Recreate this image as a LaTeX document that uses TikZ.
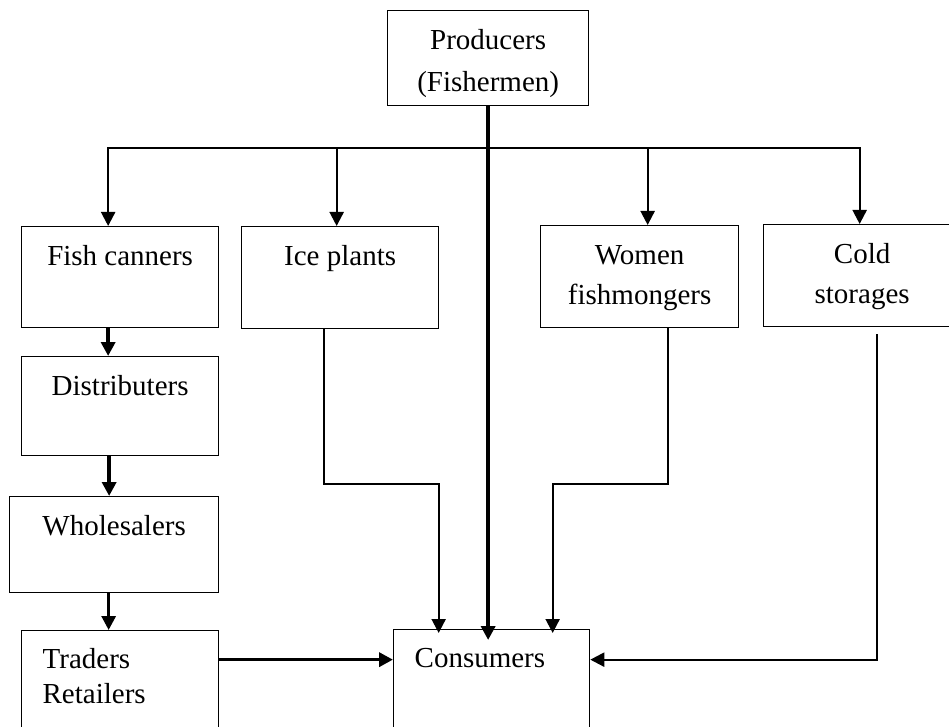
\documentclass[tikz,border=0pt]{standalone}
\usepackage{fontspec}
\setmainfont{Liberation Serif}
\usetikzlibrary{arrows.meta}

\newcommand{\boxtext}[3]{\parbox[c][#2pt][t]{#1pt}{\centering\rule{0pt}{39pt}#3}}
\newcommand{\boxtextl}[3]{\parbox[c][#2pt][t]{#1pt}{\raggedright\leftskip=21pt\rule{0pt}{38pt}#3}}

\begin{document}
\begin{tikzpicture}[x=1pt,y=-1pt,>={Triangle[length=14pt,width=14pt]},font=\fontsize{29}{40}\selectfont,box/.style={draw,line width=1.3pt,inner sep=0pt,anchor=north west},line/.style={->,line width=2.2pt},heavy/.style={->,line width=3.5pt}]
\useasboundingbox (0,0) rectangle (949,727);
\node[box] (prod) at (387,10) {\boxtext{201}{95}{Producers\\[2pt](Fishermen)}};
\node[box] (fish) at (21,226) {\boxtext{197}{101}{Fish canners}};
\node[box] (ice) at (241,226) {\boxtext{197}{102}{Ice plants}};
\node[box] (women) at (540,225) {\boxtext{198}{102}{Women\\fishmongers}};
\node[box] (cold) at (763,224) {\boxtext{197}{102}{Cold\\storages}};
\node[box] (dist) at (21,356) {\boxtext{197}{99}{Distributers}};
\node[box] (whole) at (9,496) {\boxtext{209}{96}{Wholesalers}};
\node[box] (trad) at (21,630) {\boxtextl{197}{102}{Traders\\[-5pt]Retailers}};
\node[box] (cons) at (393,629) {\boxtextl{196}{103}{Consumers}};
% from the producers
\coordinate (split) at (prod.south |- 0,148);
\draw[heavy,shorten >=-11pt] (prod.south) -- (prod.south |- cons.north);
\draw[line] (split) -| ([xshift=-12pt]fish.north);
\draw[line] (split) -| ([xshift=-3.5pt]ice.north);
\draw[line] (split) -| ([xshift=8pt]women.north);
\draw[line] (split) -| ([xshift=-2.5pt]cold.north);
% canners chain
\draw[heavy] ([xshift=-12pt]fish.south) -- ([xshift=-12pt]fish.south |- dist.north);
\draw[heavy] ([xshift=-11pt]dist.south) -- ([xshift=-11pt]dist.south |- whole.north);
\draw[->,line width=3pt] ([xshift=-5.5pt]whole.south) -- ([xshift=-5.5pt]whole.south |- trad.north);
% to the consumers
\draw[line,shorten >=-4pt] ([xshift=-16.5pt]ice.south) -- ++(0,155) -| ([xshift=-53pt]cons.north);
\draw[line,shorten >=-4pt] ([xshift=28pt]women.south) -- ++(0,156) -| ([xshift=61pt]cons.north);
\draw[line] ([xshift=14.5pt,yshift=-7pt]cold.south) |- ([yshift=21.5pt]cons.east);
\draw[heavy] ([yshift=22pt]trad.east) -- ([yshift=22pt]trad.east -| cons.west);
\end{tikzpicture}
\end{document}
